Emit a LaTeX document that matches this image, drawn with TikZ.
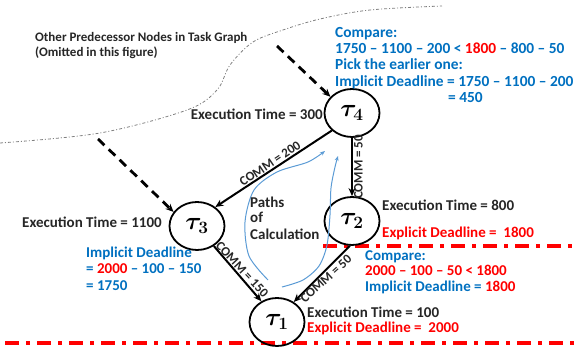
\documentclass[tikz,border=0pt]{standalone}
\usepackage{fontspec}
\usepackage{amsmath}
\setmainfont{Carlito}
\usetikzlibrary{shapes.geometric,arrows.meta}
\definecolor{txtblue}{RGB}{0,112,192}
\definecolor{txtred}{RGB}{255,0,0}
\definecolor{pathblue}{RGB}{91,155,213}
\definecolor{ink}{RGB}{38,38,38}
\newcommand{\tasklabel}[1]{{\boldmath$\tau_{#1}$}}
\begin{document}
\begin{tikzpicture}[x=1pt,y=-1pt,
  task/.style={draw, line width=1.8pt, ellipse, minimum width=55pt, minimum height=48pt,
    inner sep=0pt, font=\fontsize{23}{25}\selectfont},
  txt/.style={inner sep=0pt, anchor=base west, text=ink, font=\fontsize{15}{16}\selectfont\bfseries},
  big/.style={txt, font=\fontsize{15.4}{16}\selectfont\bfseries},
  note/.style={txt, font=\fontsize{13}{14}\selectfont\bfseries},
  comm/.style={inner sep=1pt, text=ink, font=\fontsize{13}{14}\selectfont\bfseries},
  flow/.style={line width=2pt, -{Stealth[length=8pt,width=7pt]}},
  pred/.style={line width=2.8pt, dash pattern=on 9pt off 6pt, -{Stealth[length=8pt,width=7pt]}},
  calc/.style={pathblue, line width=1pt, -{Stealth[length=5pt,width=4pt]}},
  limit/.style={txtred, line width=3.2pt, dash pattern=on 14pt off 7pt on 4pt off 7pt},
  boundary/.style={gray, line width=0.8pt, dash pattern=on 3pt off 2pt on 1pt off 2pt}
]
\useasboundingbox (0,0) rectangle (578,352);

% boundary of the omitted part of the task graph
\draw[boundary] plot[smooth, tension=0.55] coordinates
  {(0,143) (100,133) (187,110) (217,90) (230,65) (253,42) (283,30) (320,19) (370,10) (442,6)};

% deadline levels
\coordinate (r1a) at (323,246); \coordinate (r1b) at (578,246);
\coordinate (r2a) at (5,343);   \coordinate (r2b) at (578,343);
\draw[limit] (r1a) -- (r1b);
\draw[limit] (r2a) -- (r2b);

% tasks
\node[task] (t4) at (352,113) {\tasklabel{4}};
\node[task] (t3) at (197,226) {\tasklabel{3}};
\node[task] (t2) at (352,221) {\tasklabel{2}};
\node[task] (t1) at (277,322) {\tasklabel{1}};

% communication edges
\draw[flow] (t4.221) -- node[comm, midway, rotate=34, anchor=south] {COMM = 200} (t3.46);
\draw[flow] (t4.south) -- node[comm, midway, rotate=90, anchor=north] {COMM = 50} (t2.north);
\draw[flow] (t3.-50) -- node[comm, midway, rotate=-47, anchor=south] {COMM = 150} (t1.127);
\draw[flow] (t2.265) -- node[comm, midway, rotate=42, anchor=north] {COMM = 50} (t1.50);

% edges from omitted predecessors
\coordinate (p4) at (277,46);
\coordinate (p3) at (98,139);
\draw[pred] (p4) -- (t4.143);
\draw[pred] (p3) -- (t3.149);

% paths of calculation
\draw[calc] plot[smooth] coordinates
  {(268,280) (249,256) (245,222) (254,190) (277,172) (308,162) (325,151)};
\draw[calc] plot[smooth] coordinates
  {(282,287) (303,280) (319,266) (327,245) (330,215) (331,188) (335,167) (338,156)};

% labels
\node[note] (pre1) at (35,42) {Other Predecessor Nodes in Task Graph};
\node[note] (pre2) at (35,57) {(Omitted in this figure)};

\node[big, text=txtblue] (c4a) at (335,38) {Compare:};
\node[big, text=txtblue] (c4b) at (335,54) {1750 -- 1100 -- 200 < \textcolor{txtred}{1800} -- 800 -- 50};
\node[big, text=txtblue] (c4c) at (335,70) {Pick the earlier one:};
\node[big, text=txtblue] (c4d) at (335,87) {Implicit Deadline = 1750 -- 1100 -- 200};
\node[big, text=txtblue] (c4e) at (448,103) {= 450};

\node[txt, anchor=base east] (et4) at (323,120) {Execution Time = 300};
\node[txt] (et3) at (22,228) {Execution Time = 1100};
\node[txt] (et2) at (382,211) {Execution Time = 800};
\node[txt, text=txtred] (ed2) at (382,238) {Explicit Deadline =\ \ 1800};

\node[txt, text=txtblue] (c2a) at (365,261) {Compare:};
\node[txt, text=txtred] (c2b) at (365,276) {2000 -- 100 -- 50 < 1800};
\node[txt, text=txtblue] (c2c) at (365,292) {Implicit Deadline = \textcolor{txtred}{1800}};

\node[txt] (et1) at (307,318) {Execution Time = 100};
\node[txt, text=txtred] (ed1) at (307,333) {Explicit Deadline =\ \ 2000};

\node[txt, text=txtblue] (id3a) at (86,258) {Implicit Deadline};
\node[txt, text=txtblue] (id3b) at (86,274) {= \textcolor{txtred}{2000} -- 100 -- 150};
\node[txt, text=txtblue] (id3c) at (86,291) {= 1750};

\node[txt] (pc1) at (250,208) {Paths};
\node[txt] (pc2) at (250,223) {of};
\node[txt] (pc3) at (250,240) {Calculation};
\end{tikzpicture}
\end{document}
